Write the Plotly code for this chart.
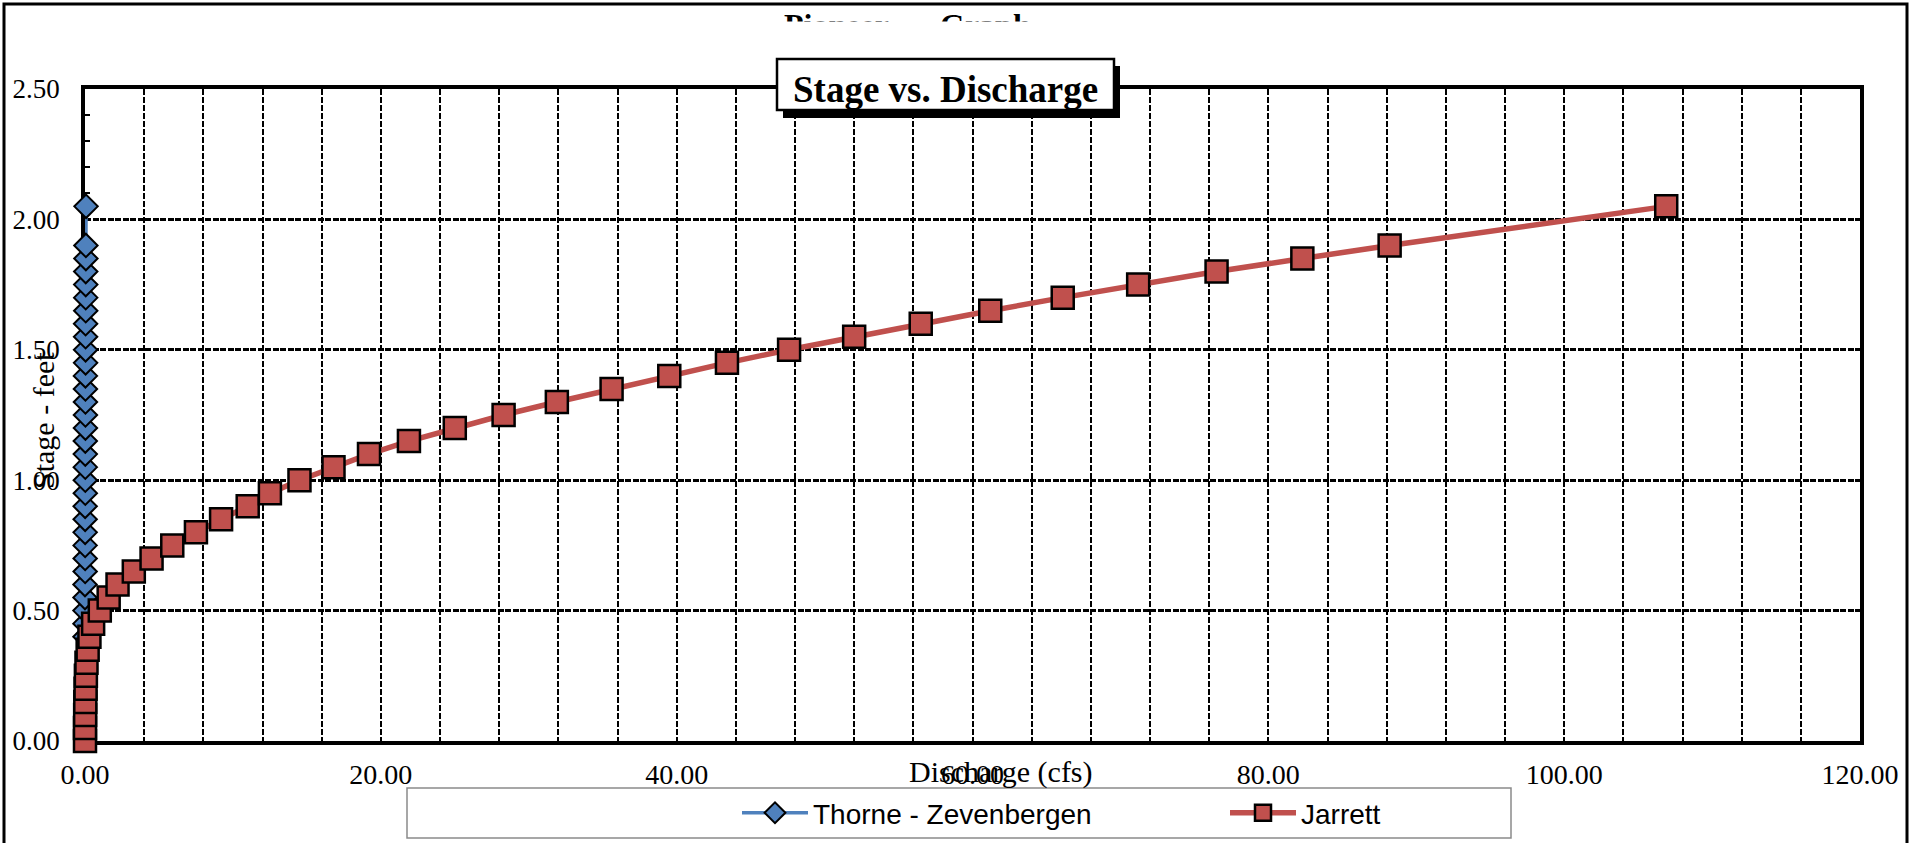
import plotly.graph_objects as go

# ---------------- data ----------------
stage_tz = [0.40, 0.45, 0.50, 0.55, 0.60, 0.65, 0.70, 0.75, 0.80, 0.85, 0.90, 0.95,
            1.00, 1.05, 1.10, 1.15, 1.20, 1.25, 1.30, 1.35, 1.40, 1.45, 1.50, 1.55,
            1.60, 1.65, 1.70, 1.75, 1.80, 1.85, 1.90, 2.05]
flow_tz = [0.00, 0.00, 0.00, 0.00, 0.00, 0.01, 0.01, 0.01, 0.01, 0.01, 0.01, 0.02,
           0.02, 0.02, 0.02, 0.02, 0.03, 0.03, 0.03, 0.03, 0.03, 0.04, 0.04, 0.04,
           0.04, 0.05, 0.05, 0.05, 0.05, 0.06, 0.06, 0.07]

stage_j = [0.00, 0.05, 0.10, 0.15, 0.20, 0.25, 0.30, 0.35, 0.40, 0.45, 0.50, 0.55,
           0.60, 0.65, 0.70, 0.75, 0.80, 0.85, 0.90, 0.95, 1.00, 1.05, 1.10, 1.15,
           1.20, 1.25, 1.30, 1.35, 1.40, 1.45, 1.50, 1.55, 1.60, 1.65, 1.70, 1.75,
           1.80, 1.85, 1.90, 2.05]
flow_j = [0.00, 0.00, 0.01, 0.02, 0.04, 0.06, 0.10, 0.18, 0.30, 0.55, 1.00, 1.60,
          2.20, 3.30, 4.50, 5.90, 7.50, 9.20, 11.00, 12.50, 14.50, 16.80, 19.20, 21.90,
          25.00, 28.30, 31.90, 35.60, 39.50, 43.40, 47.60, 52.00, 56.50, 61.20, 66.10, 71.20,
          76.50, 82.30, 88.20, 106.90]

series_names = ["Thorne - Zevenbergen", "Jarrett"]
x_ticks = [0, 20, 40, 60, 80, 100, 120]
y_ticks = [0.0, 0.5, 1.0, 1.5, 2.0, 2.5]

# ---------------- layout geometry (pixels) ----------------
FW, FH = 1923, 843
L, R, T, B = 85, 1860, 89, 741
PW, PH = R - L, B - T


def u(px):
    return (px - L) / PW


def v(py):
    return (B - py) / PH


BLUE = "#4F81BD"
RED = "#C0504D"
SERIF = "Liberation Serif"
SANS = "Liberation Sans"

fig = go.Figure()

fig.add_trace(go.Scatter(
    x=flow_tz, y=stage_tz, name=series_names[0], mode="lines+markers",
    line=dict(color=BLUE, width=3.5),
    marker=dict(symbol="diamond", size=18, color=BLUE, line=dict(color="black", width=2)),
    cliponaxis=False,
))
fig.add_trace(go.Scatter(
    x=flow_j, y=stage_j, name=series_names[1], mode="lines+markers",
    line=dict(color=RED, width=5.5),
    marker=dict(symbol="square", size=22, color=RED, line=dict(color="black", width=2.5)),
    cliponaxis=False,
))

vgrid = dict(color="black", width=1.5, dash="6px,2px")
hgrid = dict(color="black", width=2.5, dash="6px,1.5px")

fig.update_xaxes(
    range=[0, 120], tickvals=x_ticks, ticktext=[f"{t:.2f}" for t in x_ticks],
    showgrid=True, gridcolor=vgrid["color"], gridwidth=vgrid["width"], griddash=vgrid["dash"],
    minor=dict(dtick=4, showgrid=True, gridcolor=vgrid["color"], gridwidth=vgrid["width"],
               griddash=vgrid["dash"], ticks=""),
    ticks="", showline=True, linecolor="black", linewidth=3.5, mirror=True,
    zeroline=False, layer="below traces",
    tickfont=dict(family=SERIF, size=28, color="black"),
    ticklabelstandoff=6,
)
fig.update_yaxes(
    range=[0, 2.5], tickvals=y_ticks, ticktext=[f"{t:.2f}" for t in y_ticks],
    showgrid=True, gridcolor=hgrid["color"], gridwidth=hgrid["width"], griddash=hgrid["dash"],
    ticks="inside", ticklen=5, tickwidth=2, tickcolor="black",
    minor=dict(dtick=0.1, ticks="inside", ticklen=5, tickwidth=2, tickcolor="black", showgrid=False),
    showline=True, linecolor="black", linewidth=3.5, mirror=True,
    zeroline=False, layer="below traces",
    tickfont=dict(family=SERIF, size=27, color="black"),
    ticklabelstandoff=16,
)

shapes = [
    # outer chart frame
    dict(type="rect", xref="paper", yref="paper", x0=u(4), x1=u(1907), y0=v(4), y1=v(870),
         line=dict(color="black", width=3), fillcolor="rgba(0,0,0,0)", layer="above"),
    # legend box
    dict(type="rect", xref="paper", yref="paper", x0=u(407), x1=u(1511), y0=v(788), y1=v(838),
         line=dict(color="#8a8a8a", width=1.5), fillcolor="white", layer="below"),
    # chart title shadow
    dict(type="rect", xref="paper", yref="paper", x0=u(783), x1=u(1120), y0=v(66), y1=v(118),
         line=dict(width=0), fillcolor="black", layer="above"),
    # chart title box
    dict(type="rect", xref="paper", yref="paper", x0=u(777), x1=u(1114), y0=v(59), y1=v(110),
         line=dict(color="black", width=2.5), fillcolor="white", layer="above"),
]

annotations = [
    # partially hidden top title
    dict(text="<b>Pioneer</b>", x=u(782), y=v(25), xref="paper", yref="paper",
         xanchor="left", yanchor="middle", showarrow=False,
         font=dict(family=SERIF, size=32, color="black")),
    dict(text="<b>Graph</b>", x=u(938), y=v(25), xref="paper", yref="paper",
         xanchor="left", yanchor="middle", showarrow=False,
         font=dict(family=SERIF, size=32, color="black")),
    # white cover clipping the top title
    dict(text=" ", x=u(760), y=v(21), xref="paper", yref="paper",
         xanchor="left", yanchor="top", showarrow=False, width=330, height=34,
         bgcolor="white", borderpad=0, font=dict(size=10)),
    # chart title
    dict(text="<b>Stage vs. Discharge</b>", x=u(945), y=v(89), xref="paper", yref="paper",
         xanchor="center", yanchor="middle", showarrow=False,
         font=dict(family=SERIF, size=37, color="black")),
    # axis titles
    dict(text="Discharge (cfs)", x=u(1001), y=v(772), xref="paper", yref="paper",
         xanchor="center", yanchor="middle", showarrow=False,
         font=dict(family=SERIF, size=30, color="black")),
    dict(text="Stage - feet", x=u(44), y=v(421), xref="paper", yref="paper",
         xanchor="center", yanchor="middle", showarrow=False, textangle=-90,
         font=dict(family=SERIF, size=30, color="black")),
]

fig.update_layout(
    width=FW, height=FH,
    margin=dict(l=L, r=FW - R, t=T, b=FH - B, autoexpand=False),
    paper_bgcolor="white", plot_bgcolor="white",
    showlegend=True,
    legend=dict(orientation="h", x=u(737), y=v(813), xanchor="left", yanchor="middle",
                xref="paper", yref="paper",
                bgcolor="rgba(0,0,0,0)", borderwidth=0,
                font=dict(family=SANS, size=28, color="black"),
                itemwidth=66,
                entrywidth=407, entrywidthmode="pixels"),
    shapes=shapes, annotations=annotations,
)

fig.write_html("out.html",
               config={"displayModeBar": False},
               post_script="document.body.style.margin='0';document.body.style.overflow='hidden';")
